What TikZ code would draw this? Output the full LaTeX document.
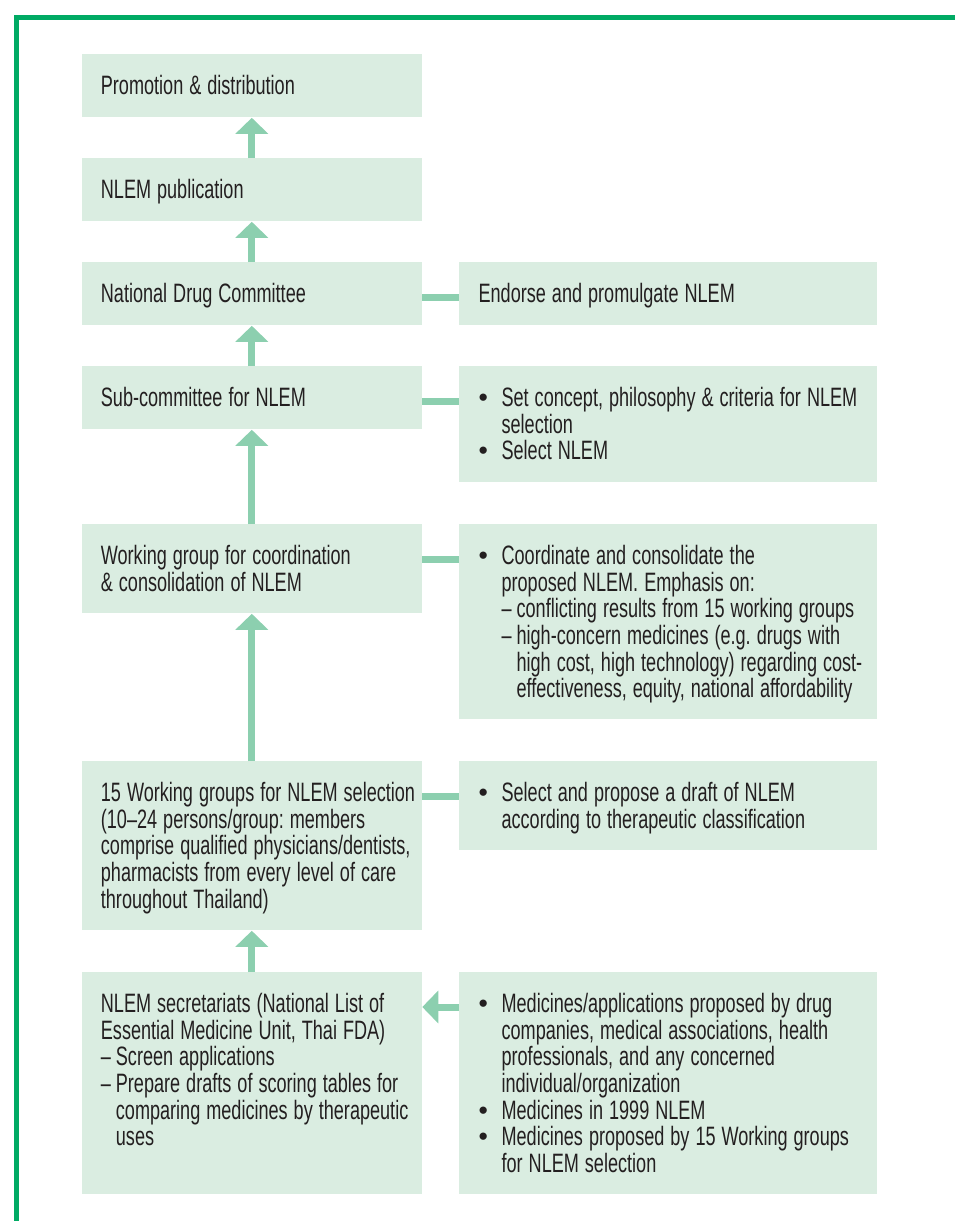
\documentclass[tikz,border=0pt]{standalone}
\usepackage{fontspec}
\setmainfont{Liberation Sans}[FakeStretch=0.68]
\newfontfamily\bltfont{Liberation Sans}
\usetikzlibrary{arrows.meta}
\definecolor{boxfill}{RGB}{218,237,225}
\definecolor{linkgreen}{RGB}{140,207,175}
\definecolor{framegreen}{RGB}{0,170,100}
\definecolor{inkdark}{RGB}{35,31,32}
\newcommand{\bitem}[1]{\hangindent=11.5pt\hangafter=1\makebox[11.5pt][l]{\bltfont\textbullet}#1\par}
\newcommand{\ditem}[2][0pt]{\hangindent=\dimexpr#1+7.5pt\relax\hangafter=1\hspace*{#1}\makebox[7.5pt][l]{\textendash}#2\par}

\begin{document}
\begin{tikzpicture}[x=0.5pt,y=-0.5pt]
\tikzstyle{box}=[anchor=north west,fill=boxfill,text=inkdark,inner xsep=9.6pt,inner ysep=10pt,text height=10pt,font=\fontsize{13.3}{13.35}\selectfont,execute at begin node={\frenchspacing\spaceskip=3pt\rightskip=-30pt plus 1fil\relax}]
\tikzstyle{lbox}=[box,text width=150.9pt]
\tikzstyle{rbox}=[box,text width=189.8pt]
\tikzstyle{link}=[draw=linkgreen,line width=3.5pt]
\tikzstyle{uparrow}=[link,-{Triangle[width=16pt,length=8pt]}]
\useasboundingbox (0,0) rectangle (954,1221);
\draw[framegreen,line width=2.5pt] (16.5,1260) |- (1000,17.5);
% left column
\node[lbox,text depth=1.5pt] (promo) at (81.3,54) {Promotion \& distribution};
\node[lbox,text depth=1.5pt] (publ) at (81.3,158) {NLEM publication};
\node[lbox,text depth=1.5pt] (ndc) at (81.3,262) {National Drug Committee};
\node[lbox,text depth=1.5pt] (sub) at (81.3,366) {Sub-committee for NLEM};
\node[lbox,text depth=14.5pt] (wgc) at (81.3,524) {Working group for coordination\newline
  \& consolidation of NLEM};
\node[lbox,text depth=54.5pt] (wg15) at (81.3,761) {15 Working groups for NLEM selection\newline
  (10\textendash 24 persons/group: members\newline
  comprise qualified physicians/dentists,\newline
  pharmacists from every level of care\newline
  throughout Thailand)};
\node[lbox,text depth=81pt] (sec) at (81.3,972) {NLEM secretariats (National List of\newline
  Essential Medicine Unit, Thai FDA)\par
  \ditem{Screen applications}
  \ditem{Prepare drafts of scoring tables for\newline comparing medicines by therapeutic\newline uses}};
% right column
\node[rbox,text depth=1.5pt] (endorse) at (459,262) {Endorse and promulgate NLEM};
\node[rbox,text depth=28pt] (subr) at (459,366) {%
  \bitem{Set concept, philosophy \& criteria for NLEM\newline selection}
  \bitem{Select NLEM}};
\node[rbox,text depth=67.5pt] (wgcr) at (459,524) {%
  \bitem{Coordinate and consolidate the\newline proposed NLEM. Emphasis on:}
  \ditem[11.5pt]{conflicting results from 15 working groups}
  \ditem[11.5pt]{high-concern medicines (e.g. drugs with\newline high cost, high technology) regarding cost-\newline effectiveness, equity, national affordability}};
\node[rbox,text depth=14.5pt] (wg15r) at (459,761) {%
  \bitem{Select and propose a draft of NLEM\newline according to therapeutic classification}};
\node[rbox,text depth=81pt] (secr) at (459,972) {%
  \bitem{Medicines/applications proposed by drug\newline companies, medical associations, health\newline professionals, and any concerned\newline individual/organization}
  \bitem{Medicines in 1999 NLEM}
  \bitem{Medicines proposed by 15 Working groups\newline for NLEM selection}};
% arrows up the chain
\draw[uparrow] (publ) -- (promo);
\draw[uparrow] (ndc) -- (publ);
\draw[uparrow] (sub) -- (ndc);
\draw[uparrow] (wgc) -- (sub);
\draw[uparrow] (wg15) -- (wgc);
\draw[uparrow] (sec) -- (wg15);
% side links
\coordinate (ndcl) at ([yshift=-17.75pt]ndc.north east);
\draw[link] (ndcl) -- (ndcl -| endorse.west);
\coordinate (subl) at ([yshift=-17.75pt]sub.north east);
\draw[link] (subl) -- (subl -| subr.west);
\coordinate (wgcl) at ([yshift=-17.5pt]wgc.north east);
\draw[link] (wgcl) -- (wgcl -| wgcr.west);
\coordinate (wg15l) at ([yshift=-17.5pt]wg15.north east);
\draw[link] (wg15l) -- (wg15l -| wg15r.west);
\coordinate (secl) at ([yshift=-17.5pt]secr.north west);
\draw[uparrow] (secl) -- (secl -| sec.east);
\end{tikzpicture}
\end{document}
